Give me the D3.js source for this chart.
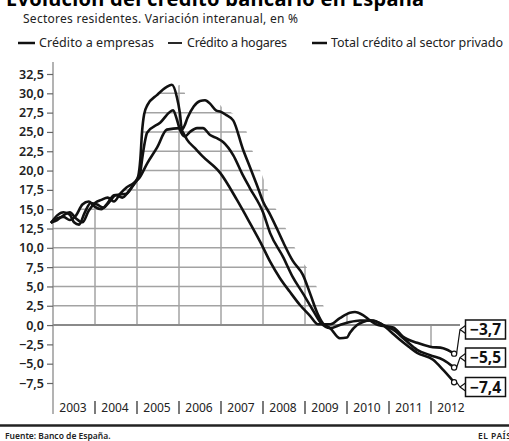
<!DOCTYPE html>
<html>
<head>
<meta charset="utf-8">
<script src="https://cdn.jsdelivr.net/npm/d3@7"></script>
<style>
  body { margin: 0; background: #fff; }
  svg { display: block; font-family: "Noto Sans", "Open Sans", sans-serif; }
</style>
</head>
<body>
<div id="chart"></div>
<script>
// values, [decimal year, %]
var empresas = [
  [2002.95, 13.2], [2003.1, 14.2], [2003.25, 14.6], [2003.4, 14.3], [2003.5, 13.3], [2003.62, 13.0],
  [2003.75, 14.5], [2003.9, 15.8], [2004.05, 15.6], [2004.2, 15.2], [2004.35, 16.0], [2004.5, 16.8],
  [2004.65, 16.5], [2004.8, 17.3], [2004.95, 18.5], [2005.03, 19.3], [2005.08, 21.5], [2005.12, 25.0],
  [2005.17, 27.3], [2005.25, 28.5], [2005.48, 29.8], [2005.7, 30.8], [2005.83, 31.1], [2005.95, 29.5],
  [2006.02, 27.5], [2006.07, 25.3], [2006.13, 25.8], [2006.2, 26.8], [2006.35, 28.3], [2006.5, 29.0],
  [2006.62, 29.1], [2006.75, 28.6], [2006.88, 27.8], [2007.0, 27.6], [2007.12, 27.2], [2007.29, 26.5],
  [2007.52, 22.8], [2007.7, 20.3], [2007.85, 18.2], [2008.0, 16.0], [2008.17, 14.3], [2008.33, 12.5],
  [2008.5, 10.5], [2008.71, 8.3], [2008.95, 6.5], [2009.12, 4.1], [2009.29, 1.6], [2009.43, 0.2],
  [2009.6, -0.4], [2009.83, -1.7], [2010.0, -1.6], [2010.07, -1.0], [2010.24, 0.0], [2010.38, 0.4],
  [2010.55, 0.6], [2010.86, 0.0], [2011.05, -0.9], [2011.26, -1.9], [2011.47, -2.8], [2011.67, -3.6],
  [2012.05, -4.5], [2012.29, -5.8], [2012.55, -7.4]
];
var hogares = [
  [2002.95, 13.3], [2003.1, 13.6], [2003.25, 14.2], [2003.4, 14.6], [2003.55, 13.8], [2003.7, 13.3],
  [2003.85, 14.8], [2004.0, 15.8], [2004.15, 16.2], [2004.3, 16.5], [2004.45, 16.0], [2004.6, 17.0],
  [2004.75, 17.8], [2004.9, 18.3], [2005.05, 19.0], [2005.25, 21.0], [2005.48, 23.0], [2005.71, 25.3],
  [2006.02, 25.5], [2006.1, 24.9], [2006.19, 24.0], [2006.38, 22.9], [2006.57, 21.8], [2006.98, 19.7],
  [2007.38, 16.2], [2007.69, 13.2], [2007.95, 10.6], [2008.17, 8.2], [2008.4, 6.1], [2008.64, 4.3],
  [2008.88, 2.6], [2009.12, 1.2], [2009.31, 0.1], [2009.6, 0.1], [2009.83, 0.9], [2010.07, 1.6],
  [2010.19, 1.7], [2010.38, 1.3], [2010.55, 0.6], [2010.74, 0.0], [2011.1, -0.3], [2011.33, -1.5],
  [2011.67, -2.3], [2011.98, -2.8], [2012.29, -3.0], [2012.55, -3.7]
];
var total = [
  [2002.95, 13.2], [2003.1, 13.8], [2003.25, 14.0], [2003.4, 13.6], [2003.55, 14.2], [2003.7, 15.6],
  [2003.85, 16.0], [2004.0, 15.3], [2004.15, 15.0], [2004.3, 15.8], [2004.45, 16.8], [2004.6, 16.9],
  [2004.75, 17.0], [2004.9, 18.0], [2005.0, 18.8], [2005.08, 19.8], [2005.12, 21.4], [2005.18, 23.5],
  [2005.24, 24.9], [2005.55, 26.2], [2005.86, 27.8], [2005.95, 26.6], [2006.02, 25.3], [2006.14, 24.4],
  [2006.26, 25.0], [2006.43, 25.5], [2006.57, 25.5], [2006.74, 24.6], [2006.9, 24.2], [2007.05, 23.7],
  [2007.29, 22.0], [2007.52, 19.4], [2007.69, 17.7], [2008.0, 14.6], [2008.17, 11.9], [2008.48, 8.8],
  [2008.71, 6.2], [2008.95, 4.1], [2009.19, 1.9], [2009.36, 0.4], [2009.6, -0.4], [2009.83, 0.0],
  [2010.07, 0.4], [2010.31, 0.6], [2010.62, 0.6], [2010.86, 0.0], [2011.1, -0.6], [2011.38, -1.9],
  [2011.67, -3.2], [2011.98, -3.9], [2012.29, -4.5], [2012.55, -5.5]
];

var seriesNames = ["Crédito a empresas", "Crédito a hogares", "Total crédito al sector privado"];
var yTicks = [-7.5, -5, -2.5, 0, 2.5, 5, 7.5, 10, 12.5, 15, 17.5, 20, 22.5, 25, 27.5, 30, 32.5];
var gridValues = [2.5, 5, 7.5, 10, 12.5, 15, 17.5, 20, 22.5, 25, 27.5, 30];
var years = ["2003", "2004", "2005", "2006", "2007", "2008", "2009", "2010", "2011", "2012"];

var series = [
  { name: seriesNames[0], values: empresas },
  { name: seriesNames[1], values: hogares },
  { name: seriesNames[2], values: total }
];

var width = 509, height = 441;

var x = d3.scaleLinear().domain([2003, 2013]).range([53, 473]);
var y = d3.scaleLinear().domain([-7.5, 32.5]).range([383, 74]);

var svg = d3.select("#chart").append("svg")
    .attr("width", width)
    .attr("height", height);

function fmt(d) {
  return (d < 0 ? "\u2212" : "") + Math.abs(d).toFixed(1).replace(".", ",");
}

// title (cut by the top edge in the scan), subtitle, legend
svg.append("text").attr("x", 6).attr("y", 6)
    .attr("font-size", 20).attr("font-weight", 700)
    .attr("textLength", 418).attr("lengthAdjust", "spacing")
    .text("Evolución del crédito bancario en España");

svg.append("text").attr("x", 23).attr("y", 23)
    .attr("font-size", 12).attr("fill", "#222")
    .attr("textLength", 275).attr("lengthAdjust", "spacing")
    .text("Sectores residentes. Variación interanual, en %");

var legendPos = [
  { lx: 18, lw: 17, tx: 39, tw: 115 },
  { lx: 168, lw: 14, tx: 187, tw: 100 },
  { lx: 312, lw: 15, tx: 331, tw: 172 }
];
var legend = svg.append("g").attr("class", "legend");
seriesNames.forEach(function(n, i) {
  var p = legendPos[i];
  legend.append("line")
      .attr("x1", p.lx).attr("x2", p.lx + p.lw)
      .attr("y1", 43).attr("y2", 43)
      .attr("stroke", "#111").attr("stroke-width", i == 1 ? 1.8 : 2.5);
  legend.append("text").attr("x", p.tx).attr("y", 47)
      .attr("font-size", 12.5).attr("fill", "#222")
      .attr("textLength", p.tw).attr("lengthAdjust", "spacing")
      .text(n);
});

// grid only shows under the curves
var areaPos = d3.area()
    .x(function(d) { return x(d[0]); })
    .y0(y(0))
    .y1(function(d) { return y(Math.max(d[1], 0)); })
    .curve(d3.curveMonotoneX);
var areaNeg = d3.area()
    .x(function(d) { return x(d[0]); })
    .y0(y(0))
    .y1(function(d) { return y(Math.min(d[1], 0)); })
    .curve(d3.curveMonotoneX);

var clip = svg.append("clipPath").attr("id", "under");
series.forEach(function(s) {
  clip.append("path").attr("d", areaPos(s.values));
  clip.append("path").attr("d", areaPos(s.values)).attr("transform", "translate(9,0)");
});
clip.append("path").attr("d", areaNeg(hogares));

var grid = svg.append("g").attr("clip-path", "url(#under)")
    .attr("stroke", "#a3a3a3").attr("stroke-width", 1.5);
grid.selectAll("line.h").data(gridValues).enter().append("line")
    .attr("class", "h")
    .attr("x1", x(2003)).attr("x2", x(2013))
    .attr("y1", function(d) { return y(d); })
    .attr("y2", function(d) { return y(d); });
grid.selectAll("line.v").data(years.slice(1)).enter().append("line")
    .attr("class", "v")
    .attr("x1", function(d) { return x(+d); })
    .attr("x2", function(d) { return x(+d); })
    .attr("y1", y(-7.5)).attr("y2", y(32.5));

// zero line
svg.append("line")
    .attr("x1", x(2003)).attr("x2", 460)
    .attr("y1", y(0)).attr("y2", y(0))
    .attr("stroke", "#8a8a8a").attr("stroke-width", 2);

// y axis
svg.append("line")
    .attr("x1", x(2003)).attr("x2", x(2003))
    .attr("y1", 62).attr("y2", 414)
    .attr("stroke", "#8a8a8a").attr("stroke-width", 1.3);

var yAxis = svg.append("g")
    .attr("transform", "translate(" + x(2003) + ",0)")
    .call(d3.axisLeft(y).tickValues(yTicks).tickSize(6).tickFormat(fmt));
yAxis.select(".domain").remove();
yAxis.selectAll(".tick line").attr("stroke", "#666").attr("stroke-width", 1.2);
yAxis.selectAll(".tick text")
    .attr("font-family", "Noto Sans, sans-serif")
    .attr("font-size", 12.5).attr("font-weight", 600).attr("fill", "#222");

// x labels with separators
var xAxis = svg.append("g").attr("class", "x-axis");
xAxis.selectAll("text").data(years).enter().append("text")
    .attr("x", function(d) { return x(+d + 0.5) - 1; })
    .attr("y", 412)
    .attr("text-anchor", "middle")
    .attr("font-size", 12).attr("fill", "#222")
    .text(function(d) { return d; });
xAxis.selectAll("line").data(years.slice(1)).enter().append("line")
    .attr("x1", function(d) { return x(+d); })
    .attr("x2", function(d) { return x(+d); })
    .attr("y1", 401).attr("y2", 414)
    .attr("stroke", "#333").attr("stroke-width", 1.3);

// lines
var line = d3.line()
    .x(function(d) { return x(d[0]); })
    .y(function(d) { return y(d[1]); })
    .curve(d3.curveMonotoneX);

svg.append("g").selectAll("path").data(series).enter().append("path")
    .attr("d", function(d) { return line(d.values); })
    .attr("fill", "none")
    .attr("stroke", "#111")
    .attr("stroke-width", 2.6)
    .attr("stroke-linejoin", "round");

// end labels
var boxMid = [329.5, 357.5, 387];
var ends = [hogares, total, empresas];
var labels = svg.append("g");
ends.forEach(function(vals, i) {
  var last = vals[vals.length - 1];
  var cx = x(last[0]), cy = y(last[1]);
  var bm = boxMid[i];
  labels.append("path")
      .attr("d", "M" + (cx + 2.5) + "," + cy + " L460," + bm + " L465.5," + (bm - 4) +
                 " M460," + bm + " L465.5," + (bm + 4))
      .attr("fill", "none").attr("stroke", "#111").attr("stroke-width", 1.2);
  labels.append("circle")
      .attr("cx", cx).attr("cy", cy).attr("r", 2.6)
      .attr("fill", "#fff").attr("stroke", "#111").attr("stroke-width", 1.2);
  labels.append("rect")
      .attr("x", 465.5).attr("y", bm - 9.5)
      .attr("width", 40).attr("height", 19)
      .attr("fill", "#fff").attr("stroke", "#111").attr("stroke-width", 1.5);
  labels.append("text")
      .attr("x", 485.5).attr("y", bm + 5.5)
      .attr("text-anchor", "middle")
      .attr("font-size", 15.5).attr("font-weight", 700).attr("fill", "#111")
      .text(fmt(last[1]));
});

// footer
svg.append("line")
    .attr("x1", 0).attr("x2", width)
    .attr("y1", 425.5).attr("y2", 425.5)
    .attr("stroke", "#222").attr("stroke-width", 2.5);
svg.append("text").attr("x", 5).attr("y", 439)
    .attr("font-size", 8.5).attr("font-weight", 600).attr("fill", "#222")
    .text("Fuente: Banco de España.");
svg.append("text").attr("x", 478).attr("y", 439)
    .attr("font-size", 8.5).attr("font-weight", 600).attr("fill", "#222")
    .attr("letter-spacing", 0.5)
    .text("EL PAÍS");
</script>
</body>
</html>
